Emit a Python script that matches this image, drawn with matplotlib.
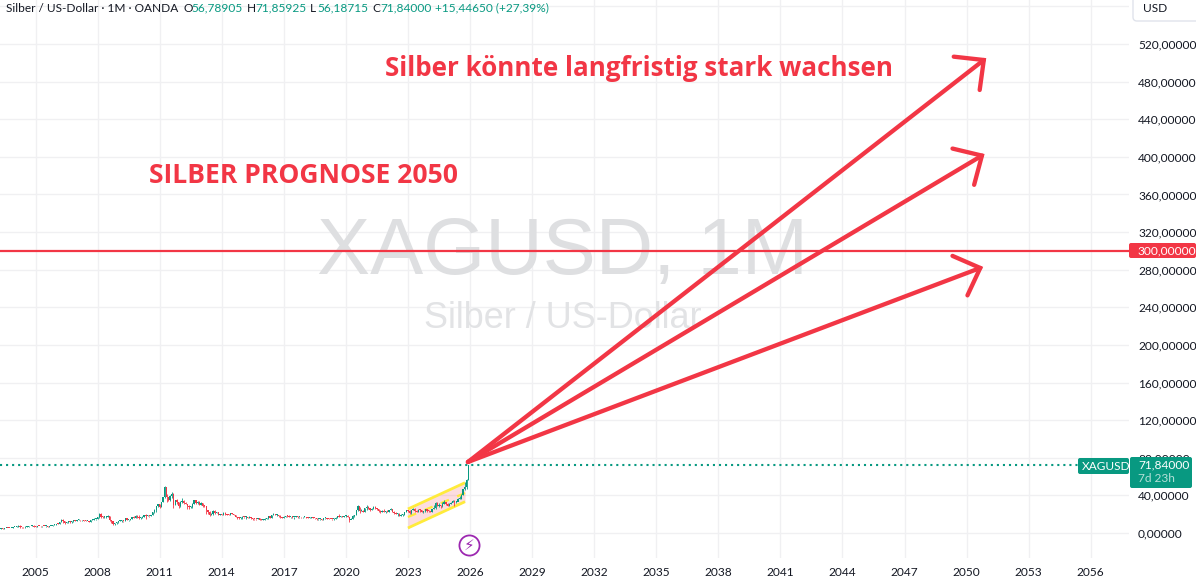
import matplotlib
matplotlib.use("Agg")
import matplotlib.pyplot as plt
from matplotlib.patches import FancyBboxPatch, Rectangle

# ---------- data (monthly candles, Apr 2003 to Dec 2025) ----------
start_year = 2003.25
closes = [
 4.55,4.75,4.55,5.1,5.2,5.15,5.1,5.5,5.95,
 6.3,6.7,7.9,6.1,6.0,5.85,6.6,6.8,6.9,7.4,7.9,6.8,
 6.7,7.4,7.2,6.9,7.4,7.0,7.2,6.8,7.5,7.7,8.8,8.8,
 9.8,9.7,11.5,13.5,12.4,10.8,11.2,12.8,11.5,12.3,13.9,12.9,
 13.5,14.0,13.3,13.4,13.2,12.4,12.9,12.1,13.8,14.3,14.6,14.8,
 16.9,19.8,17.2,16.9,17.0,17.5,17.9,13.4,12.6,9.8,10.2,11.3,
 12.6,13.0,13.1,12.5,15.6,13.7,14.0,14.9,16.6,16.2,18.5,16.8,
 16.2,16.4,17.5,18.7,18.4,18.7,18.1,19.5,22.1,24.8,28.2,30.6,
 27.9,33.2,37.9,48.6,38.5,34.9,39.8,41.3,30.1,34.8,32.8,28.2,
 33.0,34.5,32.3,31.3,28.3,27.5,27.5,31.3,34.6,32.3,33.4,30.0,
 31.9,28.6,28.3,24.2,22.3,19.5,19.8,23.6,21.6,21.9,19.5,19.5,
 19.2,21.3,19.7,19.1,18.7,21.0,20.4,19.4,17.1,16.1,15.6,15.6,
 16.8,16.6,16.6,16.4,16.8,15.6,14.7,14.6,14.5,15.6,14.1,13.8,
 14.0,15.0,15.5,17.9,16.0,18.7,20.3,18.7,19.2,17.7,16.5,16.0,
 17.5,18.3,18.1,16.8,17.2,16.6,16.7,17.6,16.6,16.7,16.5,16.9,
 17.3,16.4,16.3,16.3,16.4,16.3,15.5,14.5,14.7,14.7,14.2,15.5,
 15.9,15.3,15.0,14.9,14.6,15.3,16.4,18.4,17.0,18.0,17.0,17.8,
 17.9,16.7,14.0,15.0,18.5,18.7,24.3,28.5,23.2,23.6,22.6,26.4,
 27.0,26.7,24.4,25.9,27.9,26.1,25.5,23.9,22.0,23.9,22.8,23.3,
 22.4,24.3,25.1,22.8,21.7,20.3,20.3,17.8,19.0,19.1,22.3,24.0,
 23.9,20.9,24.1,25.0,23.5,22.8,24.9,24.6,22.1,22.9,25.3,23.8,
 23.0,22.7,25.0,26.4,31.4,29.1,29.2,28.9,31.2,32.7,30.6,28.9,
 31.3,31.6,34.1,32.6,33.0,36.0,36.6,40.0,46.6,48.7,56.78905,71.84,
]
opens_first = 4.6
highs = [
 4.8,4.9,4.8,5.4,5.3,5.4,5.2,5.6,6.0,
 6.6,6.9,8.0,8.3,6.2,6.4,6.9,7.0,7.1,7.5,8.0,8.0,
 7.0,7.6,7.6,7.4,7.6,7.5,7.4,7.4,7.6,7.9,8.9,9.3,
 9.9,10.2,11.7,14.6,15.2,12.4,11.8,13.1,13.0,12.5,14.0,14.2,
 13.6,14.9,13.9,14.0,13.7,13.5,13.2,13.0,13.9,14.5,15.8,15.0,
 17.0,20.8,21.0,17.9,17.7,17.8,19.3,17.9,14.3,12.4,10.9,11.4,
 13.0,14.3,14.1,13.1,15.8,16.0,14.1,15.0,17.2,18.0,18.9,19.2,
 18.8,16.6,17.7,18.8,19.8,19.6,18.5,19.6,22.1,25.0,28.7,31.0,
 30.8,33.3,38.2,49.8,41.0,38.2,40.4,44.0,42.0,35.2,36.0,33.0,
 33.8,37.5,35.3,33.0,31.0,29.3,28.3,31.5,35.0,34.9,34.2,33.8,
 32.5,32.3,29.4,28.5,24.2,23.0,20.8,24.5,24.3,22.8,21.9,20.2,
 20.3,22.0,21.9,20.2,19.8,21.2,21.6,20.4,19.4,17.4,16.8,17.3,
 18.5,17.3,17.6,16.9,18.0,16.9,15.7,15.3,15.2,16.4,15.6,14.7,
 14.7,15.5,15.9,18.0,18.0,18.8,21.2,20.3,20.0,19.1,18.6,17.0,
 17.9,18.5,18.6,18.7,17.5,17.7,17.0,17.8,17.9,17.5,17.4,17.0,
 17.7,17.3,16.9,17.3,16.9,17.3,16.1,15.6,14.9,15.0,14.7,15.6,
 16.2,16.2,15.6,15.2,14.9,15.5,16.6,18.5,19.7,18.4,18.2,18.0,
 18.9,18.9,17.4,15.8,18.9,18.9,24.9,29.9,28.0,25.2,24.8,26.9,
 30.1,28.4,26.6,26.4,28.7,28.3,26.7,25.7,24.0,24.8,25.4,23.4,
 24.7,24.7,26.9,25.4,22.9,22.5,20.9,20.9,20.0,19.9,22.3,24.3,
 24.5,24.6,24.2,26.1,26.1,24.1,25.3,25.0,24.2,23.7,25.5,25.9,
 24.0,23.4,25.8,29.8,32.5,32.5,31.7,30.2,32.7,34.9,33.0,31.4,
 31.5,33.4,34.6,35.0,34.0,37.3,39.5,41.0,47.0,54.5,57.0,71.85925,
]
lows = [
 4.4,4.5,4.5,4.5,4.9,5.0,4.8,5.0,5.3,
 5.9,6.1,6.5,5.6,5.5,5.5,5.7,6.3,6.7,6.9,7.2,6.4,
 6.4,6.6,7.0,6.6,6.7,6.9,6.8,6.8,6.7,7.2,7.6,8.2,
 8.7,9.3,9.5,11.4,11.0,9.4,10.3,11.0,11.0,10.9,12.0,12.7,
 12.5,13.4,12.6,13.1,12.8,12.3,12.3,11.2,11.6,13.6,13.7,13.4,
 14.5,16.4,16.4,16.2,16.2,16.3,16.8,13.0,10.6,8.5,9.0,9.7,
 10.8,12.4,12.2,11.6,12.5,13.4,12.4,13.8,14.7,15.8,16.3,16.1,
 15.1,14.7,15.8,17.1,15.2,17.8,17.5,17.6,19.0,21.5,22.8,27.5,
 26.3,27.4,33.3,37.0,33.0,33.6,33.6,37.3,26.2,30.0,30.5,26.2,
 28.0,32.0,31.2,30.4,26.0,26.0,26.1,27.0,31.0,30.8,30.3,29.6,
 29.8,28.0,27.9,20.0,20.5,18.2,18.6,19.0,20.4,21.0,19.2,18.9,
 18.7,19.1,19.3,18.8,18.6,18.6,19.9,19.3,17.0,15.0,14.4,15.3,
 15.4,16.2,15.3,15.7,16.2,15.4,14.3,13.9,14.1,14.5,13.9,13.6,
 13.6,13.9,14.8,15.0,15.8,15.8,18.6,18.6,18.4,17.3,15.8,15.6,
 15.8,17.3,16.8,16.7,16.2,16.4,15.2,16.5,16.3,16.4,16.2,15.6,
 16.9,16.1,15.9,16.0,16.1,15.9,15.1,14.3,13.9,14.3,13.9,14.1,
 15.2,15.2,14.8,14.4,14.2,14.3,15.0,16.1,16.9,17.0,16.5,16.6,
 17.3,16.5,11.7,14.6,14.6,17.2,18.6,23.6,21.7,23.0,21.9,22.2,
 24.2,25.6,23.8,24.3,25.6,25.5,24.8,22.4,21.4,22.0,22.2,21.4,
 22.1,22.2,24.0,22.6,20.5,20.1,18.1,17.6,17.6,18.1,19.0,21.8,
 22.8,20.4,20.1,24.0,22.6,22.2,22.5,22.2,22.0,21.0,22.7,22.5,
 21.9,22.3,22.6,25.5,26.0,28.6,27.5,26.5,27.7,30.9,29.7,28.3,
 28.8,30.8,32.8,28.3,31.7,35.3,35.9,36.2,40.0,45.5,46.9,56.18715,
]
current_price = 71.84
level_price = 300
x_tick_years = [2005,2008,2011,2014,2017,2020,2023,2026,2029,2032,2035,2038,2041,2044,2047,2050,2053,2056]
y_tick_values = [0,40,80,120,160,200,240,280,320,360,400,440,480,520,560]

arrow_start = (2025.9, 75.5)
arrow_ends = [(2050.95,505),(2050.87,403),(2050.8,283)]

channel_x = [2023.0, 2025.76]
channel_low = [5.3, 33.3]
channel_mid = [17.0, 42.5]
channel_high = [25.5, 53.5]
event_year, event_price = 2025.95, -12.8

RED, GREEN, GRID, INK = "#F23645", "#089981", "#F0F0F2", "#131722"
UI_FONT = ["Lato", "DejaVu Sans"]
TS = 8.6

W, H = 1196, 582
fig = plt.figure(figsize=(W/100, H/100), dpi=100, facecolor="white")
ax = fig.add_axes([0, 24/H, 1129/W, 558/H])
ax.set_xlim(2003.284, 2057.85)
ax.set_ylim(-26.6, 566.8)
for s in ax.spines.values():
    s.set_visible(False)

ax.set_xticks(x_tick_years)
ax.set_xticklabels([str(y) for y in x_tick_years], fontsize=TS, color=INK, family=UI_FONT)
ax.yaxis.tick_right()
ax.set_yticks(y_tick_values)
ax.set_yticklabels([f"{v:.5f}".replace(".", ",") if v < 560 else "" for v in y_tick_values],
                   fontsize=TS, color=INK, family=UI_FONT)
ax.tick_params(axis="both", length=0)
ax.tick_params(axis="x", pad=6.5)
ax.tick_params(axis="y", pad=6.5)
ax.grid(True, color=GRID, lw=1)
ax.set_axisbelow(True)

# watermark
ax.text(0.4985, 1-253/558, "XAGUSD, 1M", transform=ax.transAxes, ha="center", va="center",
        fontsize=57.3, color="#DEDFE1", family="Liberation Sans", zorder=1)
ax.text(0.4985, 1-319/558, "Silber / US-Dollar", transform=ax.transAxes, ha="center", va="center",
        fontsize=25.9, color="#E2E3E5", family="Liberation Sans", zorder=1)

# channel
ax.fill_between(channel_x, channel_low, channel_high, color=RED, alpha=0.17, lw=0, zorder=2)
ax.plot(channel_x, channel_low, color="#FFEB3B", lw=2, zorder=2.2, solid_capstyle="butt")
ax.plot(channel_x, channel_high, color="#FFEB3B", lw=2, zorder=2.2, solid_capstyle="butt")
ax.plot(channel_x, channel_mid, color="#FFEB3B", lw=1.6, ls=(0, (4, 4)), zorder=2.2)

# candles
opens = [opens_first] + closes[:-1]
xs = [start_year + i/12 for i in range(len(closes))]
for x, o, h, l, c in zip(xs, opens, highs, lows, closes):
    col = GREEN if c >= o else RED
    ax.plot([x, x], [l, h], color=col, lw=0.6, zorder=3, solid_capstyle="butt")
    ax.add_patch(Rectangle((x-0.032, min(o, c)), 0.064, max(abs(c-o), 1.0), facecolor=col, edgecolor="none", zorder=3.1))

# price lines
ax.axhline(current_price, color=GREEN, lw=1.5, ls=(0, (1, 1.9)), zorder=2.5)
ax.axhline(level_price, color=RED, lw=1.6, zorder=4)

# arrows
for end in arrow_ends:
    ax.annotate("", xy=end, xytext=arrow_start, zorder=5,
                arrowprops=dict(arrowstyle="->,head_length=0.78,head_width=0.76", mutation_scale=20,
                                color=RED, lw=3.1, shrinkA=0, shrinkB=0, capstyle="round", joinstyle="miter"))

# event badge
ax.plot([event_year], [event_price], marker="o", ms=14.5, mfc="white", mec="#9C27B0", mew=1.3, zorder=5)
ax.text(event_year, event_price, "\u26A1", ha="center", va="center", color="#9C27B0", fontsize=11,
        family="DejaVu Sans", zorder=6)

# annotation texts
fig.text(385/W, 1-68/H, "Silber könnte langfristig stark wachsen", color=RED, fontsize=18.75,
         family="Open Sans", weight="bold", ha="left", va="center")
fig.text(149/W, 1-176/H, "SILBER PROGNOSE 2050", color=RED, fontsize=19.1,
         family="Open Sans", weight="bold", ha="left", va="center")

# UI boxes
def box(x0, y0, x1, y1, fc, ec="none", r=2):
    fig.add_artist(FancyBboxPatch((x0, H-y1), x1-x0, y1-y0, boxstyle=f"round,pad=0,rounding_size={r}",
                                  transform=None, fc=fc, ec=ec, lw=1, zorder=8))
def label(x, y, s, color, size=TS, ha="left"):
    fig.text(x/W, 1-y/H, s, color=color, fontsize=size, family=UI_FONT, ha=ha, va="center", zorder=9)

box(1078, 458, 1129, 474, GREEN)
label(1082, 466, "XAGUSD", "white", 8.6)
box(1130, 457, 1192, 488, GREEN)
label(1138, 465, "71,84000", "white")
label(1138, 479, "7d 23h", "#B5E0D8")
box(1129, 243, 1196, 258, RED)
label(1137, 251, "300,00000", "white")
box(1133, -6, 1200, 21, "white", "#E0E3EB", 4)
label(1143, 9, "USD", INK)

# legend row
y = 8
label(6, y, "Silber / US-Dollar · 1M · OANDA", INK)
for x, k, vx, v in [(183,"O",191,"56,78905"), (247,"H",255,"71,85925"), (310,"L",317,"56,18715"), (372,"C",380,"71,84000")]:
    label(x, y, k, INK)
    label(vx, y, v, GREEN)
label(435, y, "+15,44650 (+27,39%)", GREEN)

fig.savefig("out.png", dpi=100, facecolor="white")
